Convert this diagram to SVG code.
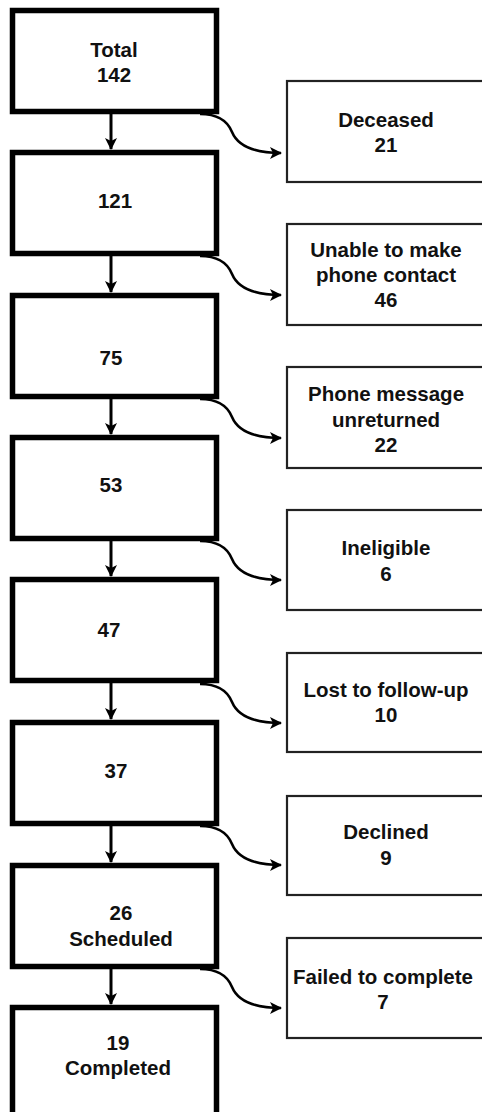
<svg xmlns="http://www.w3.org/2000/svg" width="482" height="1112" viewBox="0 0 482 1112">
<defs>
<style>
.main{fill:#fff;stroke:#000;stroke-width:5.5}
.side{fill:#fff;stroke:#222;stroke-width:2.2}
text{font-family:"Liberation Sans",Arial,sans-serif;font-weight:bold;font-size:20.5px;fill:#111;text-anchor:middle}
.v{stroke:#000;stroke-width:3;fill:none}
.c{stroke:#000;stroke-width:2.6;fill:none}
</style>
<marker id="ah" markerUnits="userSpaceOnUse" markerWidth="14" markerHeight="14" refX="11" refY="6" orient="auto">
<path d="M0,0 L12,6 L0,12 L3,6 Z" fill="#000"/>
</marker>
</defs>
<rect width="482" height="1112" fill="#fff"/>
<g id="connectors">
<path class="v" d="M111,114 V149" marker-end="url(#ah)"/>
<path class="v" d="M111,256 V292" marker-end="url(#ah)"/>
<path class="v" d="M111,399 V434" marker-end="url(#ah)"/>
<path class="v" d="M111,541 V576" marker-end="url(#ah)"/>
<path class="v" d="M111,683 V719" marker-end="url(#ah)"/>
<path class="v" d="M111,826 V862" marker-end="url(#ah)"/>
<path class="v" d="M111,969 V1004" marker-end="url(#ah)"/>
<path class="c" d="M200,114 C220,114 228,122 232,132 C237,144 250,153 281,153" marker-end="url(#ah)"/>
<path class="c" d="M200,256 C220,256 228,264 232,274 C237,286 250,295 281,295" marker-end="url(#ah)"/>
<path class="c" d="M200,399 C220,399 228,407 232,417 C237,429 250,438 281,438" marker-end="url(#ah)"/>
<path class="c" d="M200,541 C220,541 228,549 232,559 C237,571 250,580 281,580" marker-end="url(#ah)"/>
<path class="c" d="M200,684 C220,684 228,692 232,702 C237,714 250,723 281,723" marker-end="url(#ah)"/>
<path class="c" d="M200,826 C220,826 228,834 232,844 C237,856 250,865 281,865" marker-end="url(#ah)"/>
<path class="c" d="M200,969 C220,969 228,977 232,987 C237,999 250,1008 281,1008" marker-end="url(#ah)"/>
</g>
<g id="n1"><rect class="main" x="12.5" y="10.5" width="204" height="101"/><text x="114" y="57">Total</text><text x="114" y="82">142</text></g>
<g id="n2"><rect class="main" x="12.5" y="152.5" width="204" height="101"/><text x="115" y="208">121</text></g>
<g id="n3"><rect class="main" x="12.5" y="295.5" width="204" height="101"/><text x="111" y="365">75</text></g>
<g id="n4"><rect class="main" x="12.5" y="437.5" width="204" height="101"/><text x="111" y="492">53</text></g>
<g id="n5"><rect class="main" x="12.5" y="579.5" width="204" height="101"/><text x="109" y="637">47</text></g>
<g id="n6"><rect class="main" x="12.5" y="722.5" width="204" height="101"/><text x="116" y="778">37</text></g>
<g id="n7"><rect class="main" x="12.5" y="865.5" width="204" height="101"/><text x="121" y="920">26</text><text x="121" y="946">Scheduled</text></g>
<g id="n8"><rect class="main" x="12.5" y="1007.5" width="204" height="115"/><text x="118" y="1050">19</text><text x="118" y="1075">Completed</text></g>
<g id="s1"><rect class="side" x="287" y="81" width="205" height="101"/><text x="386" y="127">Deceased</text><text x="386" y="152">21</text></g>
<g id="s2"><rect class="side" x="287" y="224" width="205" height="101"/><text x="386" y="257">Unable to make</text><text x="386" y="282">phone contact</text><text x="386" y="307">46</text></g>
<g id="s3"><rect class="side" x="287" y="367" width="205" height="101"/><text x="386" y="401">Phone message</text><text x="386" y="427">unreturned</text><text x="386" y="452">22</text></g>
<g id="s4"><rect class="side" x="287" y="510" width="205" height="100"/><text x="386" y="555">Ineligible</text><text x="386" y="581">6</text></g>
<g id="s5"><rect class="side" x="287" y="653" width="205" height="99"/><text x="386" y="697">Lost to follow-up</text><text x="386" y="722">10</text></g>
<g id="s6"><rect class="side" x="287" y="796" width="205" height="99"/><text x="386" y="839">Declined</text><text x="386" y="865">9</text></g>
<g id="s7"><rect class="side" x="287" y="938" width="205" height="100"/><text x="383" y="984">Failed to complete</text><text x="383" y="1009">7</text></g>
</svg>
